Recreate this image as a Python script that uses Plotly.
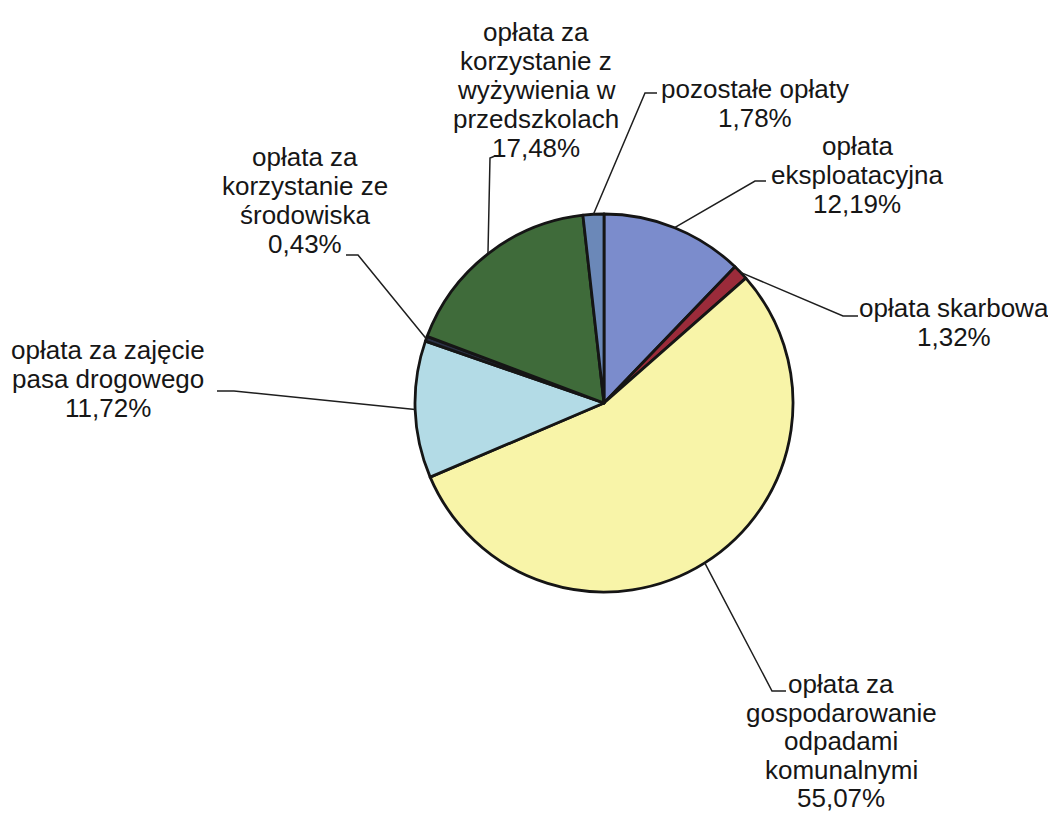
import math
import plotly.graph_objects as go

# ---------------- data ----------------
categories = [
    "opłata eksploatacyjna",
    "opłata skarbowa",
    "opłata za gospodarowanie odpadami komunalnymi",
    "opłata za zajęcie pasa drogowego",
    "opłata za korzystanie ze środowiska",
    "opłata za korzystanie z wyżywienia w przedszkolach",
    "pozostałe opłaty",
]
values = [12.19, 1.32, 55.07, 11.72, 0.43, 17.48, 1.78]
label_lines = [
    ["opłata", "eksploatacyjna"],
    ["opłata skarbowa"],
    ["opłata za", "gospodarowanie", "odpadami", "komunalnymi"],
    ["opłata za zajęcie", "pasa drogowego"],
    ["opłata za", "korzystanie ze", "środowiska"],
    ["opłata za", "korzystanie z", "wyżywienia w", "przedszkolach"],
    ["pozostałe opłaty"],
]
colors = ["#7b8ccc", "#9b2b3a", "#f8f4a8", "#b3dbe6", "#2b3045", "#3f6b3a", "#6b88b8"]

# ---------------- layout (window pixels) ----------------
OFF = 8                      # page body margin in the browser
FW, FH = 1056 - OFF, 816 - OFF
CX, CY, R = 604, 403, 189
FONT_SIZE = 26
# text block: (center x, first line center y, line spacing)
text_pos = [(857, 146, 29), (954, 308, 29), (841, 684, 28.5), (108, 350, 29),
            (305, 157, 29), (536, 32, 29), (755, 89, 29)]
# leader line: elbow point, hook end
leader = [
    ((755, 181), (766, 181)),
    ((843, 316), (858, 316)),
    ((772, 691), (786, 691)),
    ((234, 391), (217, 391)),
    ((358, 255), (346, 255)),
    ((490, 158), (495, 156)),
    ((645, 93), (657, 93)),
]


def px(x):
    return (x - OFF) / FW


def py(y):
    return 1 - (y - OFF) / FH


fig = go.Figure(
    go.Pie(
        labels=categories,
        values=values,
        sort=False,
        direction="clockwise",
        rotation=0,
        textinfo="none",
        hoverinfo="label+percent",
        showlegend=False,
        marker=dict(colors=colors, line=dict(color="#151515", width=2.8)),
        domain=dict(x=[px(CX - R), px(CX + R)], y=[py(CY + R), py(CY - R)]),
    )
)

total = sum(values)
cum = 0.0
annotations = []
shapes = []
for i, v in enumerate(values):
    mid = (cum + v / 2) / total
    cum += v
    theta = 2 * math.pi * mid
    ex = CX + R * math.sin(theta)
    ey = CY - R * math.cos(theta)
    (bx, by), (hx, hy) = leader[i]
    shapes.append(dict(
        type="path", xref="paper", yref="paper",
        path=f"M {px(ex)},{py(ey)} L {px(bx)},{py(by)} L {px(hx)},{py(hy)}",
        line=dict(color="#1e1e1e", width=1.5),
    ))
    pct = f"{v:.2f}".replace(".", ",") + "%"
    lines = label_lines[i] + [pct]
    tx, ty, sp = text_pos[i]
    for k, t in enumerate(lines):
        annotations.append(dict(
            x=px(tx), y=py(ty + k * sp), xref="paper", yref="paper",
            text=t, showarrow=False, xanchor="center", yanchor="middle",
            borderpad=0,
            font=dict(family="Arial, Liberation Sans, sans-serif", size=FONT_SIZE, color="#161616"),
        ))

fig.update_layout(
    width=FW, height=FH,
    margin=dict(l=0, r=0, t=0, b=0),
    paper_bgcolor="white",
    plot_bgcolor="white",
    annotations=annotations,
    shapes=shapes,
)

fig.write_html("out.html")
